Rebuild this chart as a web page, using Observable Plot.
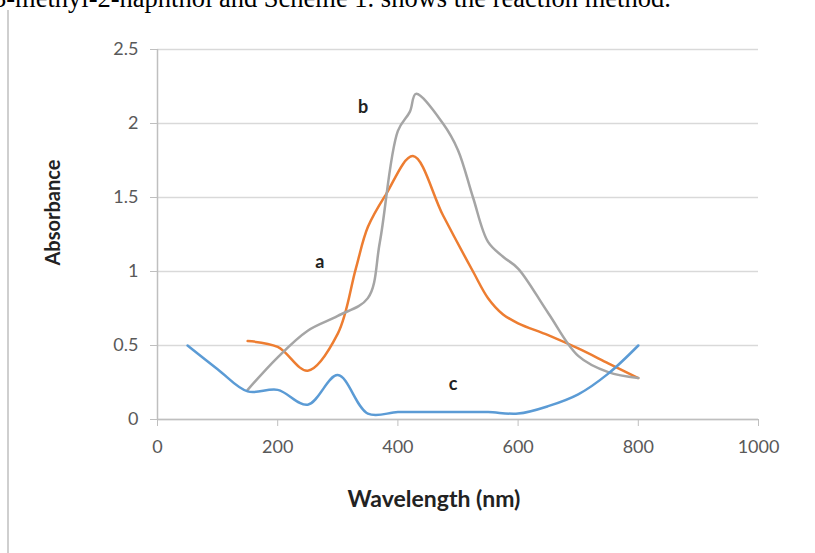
<!DOCTYPE html>
<html>
<head>
<meta charset="utf-8">
<script src="https://cdn.jsdelivr.net/npm/d3@7"></script>
<script src="https://cdn.jsdelivr.net/npm/@observablehq/plot@0.6"></script>
<style>
  html, body { margin: 0; padding: 0; background: #fff; }
  #wrap { position: relative; width: 815px; height: 553px; overflow: hidden; }
  #page-text { position: absolute; left: -7px; top: -14px; font-family: "Liberation Serif", serif; font-size: 26.5px; line-height: 24px; color: #000; white-space: nowrap; }
  #page-line { position: absolute; left: 7px; top: 10px; width: 2px; height: 543px; background: #cfcfcf; }
  #chart { position: absolute; left: 0; top: 0; }
</style>
</head>
<body>
<div id="wrap">
  <div id="page-text">3-methyl-2-naphthol and Scheme 1. shows the reaction method.</div>
  <div id="page-line"></div>
  <div id="chart"></div>
</div>
<script>
// Series a (orange)
const aWavelength = [150, 200, 250, 300, 330, 350, 380, 425, 475, 525, 550, 575, 600, 650, 700, 750, 800];
const aAbsorbance = [0.53, 0.49, 0.33, 0.58, 1.02, 1.3, 1.52, 1.78, 1.38, 1.0, 0.82, 0.71, 0.65, 0.57, 0.48, 0.38, 0.28];
// Series b (gray)
const bWavelength = [150, 200, 250, 300, 350, 370, 400, 420, 430, 475, 500, 525, 550, 575, 600, 650, 700, 750, 800];
const bAbsorbance = [0.2, 0.42, 0.6, 0.7, 0.82, 1.2, 1.95, 2.08, 2.2, 2.0, 1.82, 1.5, 1.2, 1.1, 1.02, 0.72, 0.43, 0.32, 0.28];
// Series c (blue)
const cWavelength = [50, 100, 150, 200, 250, 300, 350, 400, 450, 500, 550, 600, 650, 700, 750, 800];
const cAbsorbance = [0.5, 0.34, 0.19, 0.2, 0.1, 0.3, 0.04, 0.05, 0.05, 0.05, 0.05, 0.04, 0.09, 0.17, 0.31, 0.5];

const seriesNames = ["a", "b", "c"];
const seriesColors = ["#ed7d31", "#a5a5a5", "#5b9bd5"];
const labelWavelength = [270, 342, 492];
const labelAbsorbance = [1.06, 2.11, 0.24];

const xTicks = [0, 200, 400, 600, 800, 1000];
const yTicks = [0, 0.5, 1, 1.5, 2, 2.5];
const xTitle = "Wavelength (nm)";
const yTitle = "Absorbance";

const zip = (name, xs, ys) => xs.map((x, i) => ({series: name, x, y: ys[i]}));
const lines = [
  zip("a", aWavelength, aAbsorbance),
  zip("b", bWavelength, bAbsorbance),
  zip("c", cWavelength, cAbsorbance)
];
const labels = seriesNames.map((s, i) => ({text: s, x: labelWavelength[i], y: labelAbsorbance[i]}));

const font = "Lato, 'Open Sans', sans-serif";

const chart = Plot.plot({
  width: 815,
  height: 553,
  marginLeft: 157,
  marginRight: 57,
  marginTop: 49,
  marginBottom: 134,
  style: {background: "transparent", fontFamily: font},
  x: {domain: [0, 1000], axis: null},
  y: {domain: [0, 2.5], axis: null},
  marks: [
    Plot.ruleY(yTicks, {y: d => d, stroke: "#d9d9d9", strokeWidth: 1.5}),
    Plot.axisY({ticks: yTicks, label: null, tickSize: 7, tickPadding: 12, tickFormat: d => String(d), color: "#595959", stroke: "#bfbfbf", fontSize: 18, fontFamily: font}),
    Plot.axisX({ticks: xTicks, label: null, tickSize: 7, tickPadding: 14, tickFormat: d => String(d), color: "#595959", stroke: "#bfbfbf", fontSize: 18, fontFamily: font}),
    Plot.ruleX([0], {stroke: "#bfbfbf", strokeWidth: 1.5}),
    Plot.ruleY([0], {stroke: "#bfbfbf", strokeWidth: 1.5}),
    ...lines.map((data, i) => Plot.line(data, {x: "x", y: "y", stroke: seriesColors[i], strokeWidth: 2.5, curve: "catmull-rom"})),
    Plot.text(labels, {x: "x", y: "y", text: "text", fontWeight: "bold", fontSize: 18, fill: "#222"}),
    Plot.text([yTitle], {frameAnchor: "left", dx: -104, dy: 31, rotate: -90, fontWeight: "bold", fontSize: 20, fill: "#222", fontFamily: font}),
    Plot.text([xTitle], {frameAnchor: "bottom", dx: -24, dy: 87, fontWeight: "bold", fontSize: 23, fill: "#222", fontFamily: font})
  ]
});
document.getElementById("chart").appendChild(chart);
</script>
</body>
</html>
